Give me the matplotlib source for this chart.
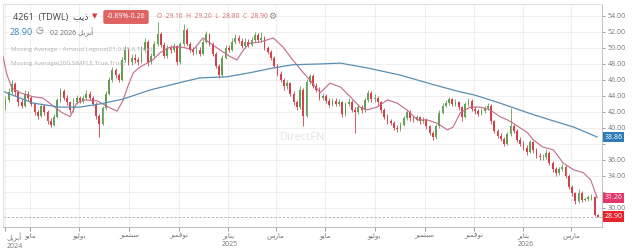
import numpy as np
import pandas as pd
import matplotlib
matplotlib.use("Agg")
import matplotlib.pyplot as plt
import matplotlib.dates as mdates
import matplotlib.transforms as mtransforms

plt.rcParams['font.family'] = ['Open Sans', 'DejaVu Sans']

# Candles (one every 4 calendar days), open = previous close
first_open = 43.0
closes = [43.5, 44.5, 45.5, 44.5, 43.2, 42.8, 44.3, 43.8, 43.0, 42.0,
          41.5, 42.8, 42.0, 40.8, 40.4, 41.4, 43.5, 44.6, 43.8, 43.2,
          42.2, 43.3, 43.7, 43.4, 43.7, 44.3, 43.8, 43.0, 41.5, 40.5,
          42.5, 44.3, 46.0, 47.2, 46.6, 46.0, 48.5, 49.8, 48.2, 48.8,
          48.5, 48.3, 49.8, 50.8, 48.3, 49.0, 50.5, 51.8, 50.4, 49.0,
          50.0, 49.8, 50.2, 48.2, 50.5, 52.3, 50.5, 49.8, 49.5, 49.8,
          49.3, 50.8, 51.7, 50.5, 49.3, 47.8, 46.6, 48.8, 50.0, 49.8,
          50.8, 51.3, 50.9, 50.3, 50.8, 50.4, 51.0, 51.6, 51.0, 51.3,
          50.0, 49.5, 48.8, 47.8, 46.8, 46.0, 45.2, 45.6, 44.3, 43.2,
          42.6, 44.8, 41.5, 45.8, 46.5, 45.3, 44.8, 43.8, 44.0, 43.4,
          42.9, 43.4, 43.0, 43.2, 41.7, 43.0, 43.3, 42.3, 42.0, 42.6,
          42.2, 43.5, 44.4, 43.6, 43.8, 43.2, 42.2, 41.4, 40.8, 40.6,
          40.0, 39.8, 40.4, 41.2, 42.0, 41.2, 41.0, 41.3, 40.8, 41.0,
          40.2, 39.4, 38.8, 40.2, 41.9, 42.8, 43.1, 43.6, 43.0, 43.2,
          42.6, 41.4, 43.0, 43.4, 42.4, 42.1, 41.8, 42.1, 42.5, 42.8,
          40.8, 39.6, 39.0, 38.6, 38.0, 39.2, 40.2, 39.6, 38.5, 38.0,
          37.5, 37.0, 38.2, 37.2, 36.5, 36.3, 36.3, 36.9, 35.6, 34.8,
          34.3, 34.8, 35.1, 34.0, 32.6, 31.8, 30.8, 31.9, 31.0, 31.1,
          31.3, 31.4, 29.16, 28.90]
highs = [44.0, 45.0, 46.0, 45.8, 44.8, 43.6, 44.8, 44.6, 44.0, 43.3,
         42.3, 43.1, 43.0, 42.2, 41.2, 41.8, 43.8, 45.0, 44.9, 44.1,
         43.4, 43.7, 44.1, 44.0, 44.1, 44.8, 44.6, 44.0, 43.2, 41.8,
         42.8, 44.6, 46.4, 47.6, 47.5, 46.9, 48.9, 50.3, 50.0, 49.2,
         49.2, 48.9, 50.2, 51.2, 51.0, 49.4, 50.9, 53.2, 52.0, 50.7,
         50.4, 50.4, 50.6, 50.4, 50.8, 53.0, 52.5, 50.8, 50.1, 50.2,
         50.1, 51.1, 52.1, 51.9, 50.7, 49.5, 48.0, 49.1, 50.4, 50.4,
         51.2, 51.7, 51.6, 51.2, 51.2, 51.1, 51.4, 52.0, 51.9, 52.0,
         51.5, 50.3, 49.8, 49.0, 48.0, 47.1, 46.3, 46.0, 45.8, 44.6,
         43.5, 45.2, 45.0, 46.1, 46.8, 46.7, 45.6, 45.1, 44.4, 44.3,
         43.7, 43.8, 43.7, 43.6, 43.4, 43.3, 43.7, 43.5, 42.6, 43.0,
         42.9, 43.8, 44.8, 44.6, 44.2, 44.0, 43.4, 42.5, 41.7, 41.1,
         40.9, 40.3, 40.7, 41.5, 42.3, 42.2, 41.5, 41.6, 41.5, 41.3,
         41.2, 40.4, 39.6, 40.5, 42.2, 43.1, 43.5, 43.9, 43.8, 43.6,
         43.4, 42.8, 43.3, 43.8, 43.6, 42.7, 42.4, 42.5, 42.8, 43.1,
         43.0, 41.0, 39.9, 39.3, 38.9, 39.5, 42.5, 40.5, 39.8, 38.8,
         38.3, 37.8, 38.5, 38.4, 37.5, 36.8, 36.7, 37.3, 37.1, 35.9,
         35.1, 35.1, 35.5, 35.3, 34.2, 32.9, 32.0, 32.3, 32.1, 31.4,
         31.6, 31.7, 31.5, 29.20]
lows = [42.2, 43.2, 44.2, 44.0, 42.8, 42.5, 42.6, 43.4, 42.7, 41.6,
        41.1, 41.3, 41.6, 40.5, 40.1, 40.2, 41.2, 43.3, 43.5, 42.9,
        41.9, 42.0, 43.0, 43.1, 43.1, 43.5, 43.5, 42.7, 41.1, 38.9,
        40.3, 42.3, 44.1, 45.8, 46.2, 45.7, 45.9, 48.3, 47.9, 47.9,
        48.1, 47.9, 48.1, 49.5, 47.7, 48.0, 48.8, 50.3, 50.1, 48.7,
        48.8, 49.4, 49.5, 47.9, 48.0, 50.3, 50.2, 49.5, 49.1, 49.2,
        49.0, 49.1, 50.6, 50.2, 49.0, 47.5, 46.3, 46.4, 48.6, 49.5,
        49.6, 50.5, 50.6, 50.0, 50.0, 50.1, 50.2, 50.8, 50.7, 50.8,
        49.7, 49.2, 48.5, 47.5, 46.5, 45.7, 44.8, 44.9, 44.0, 42.9,
        42.3, 42.4, 40.2, 41.3, 45.5, 45.0, 44.5, 43.5, 43.5, 43.1,
        42.6, 42.7, 42.7, 42.8, 41.4, 41.5, 42.8, 42.0, 39.4, 41.8,
        41.9, 42.0, 43.3, 43.3, 43.3, 42.9, 41.9, 41.1, 40.5, 40.3,
        39.7, 39.5, 39.6, 40.2, 41.0, 40.9, 40.7, 40.8, 40.5, 40.6,
        39.9, 39.1, 38.5, 38.6, 40.0, 41.7, 42.6, 42.9, 42.7, 42.8,
        42.3, 40.8, 41.2, 42.8, 42.1, 41.8, 41.5, 41.6, 41.9, 42.3,
        40.5, 39.3, 38.7, 38.3, 37.7, 37.8, 39.0, 39.3, 38.2, 37.7,
        37.2, 36.6, 36.8, 36.9, 36.2, 36.0, 36.0, 36.1, 35.3, 34.5,
        34.0, 34.1, 34.6, 33.7, 32.3, 31.5, 30.5, 30.6, 30.7, 30.8,
        30.9, 31.0, 29.0, 28.80]

# Moving averages
alma_dates = ['2024-03-29', '2024-04-03', '2024-04-09', '2024-04-19', '2024-05-05', '2024-05-17',
              '2024-05-30', '2024-06-10', '2024-06-20', '2024-06-28', '2024-07-08', '2024-07-23',
              '2024-08-08', '2024-08-17', '2024-08-24', '2024-08-31', '2024-09-06', '2024-09-14',
              '2024-09-30', '2024-10-09', '2024-10-21', '2024-11-06', '2024-11-19', '2024-12-01',
              '2024-12-10', '2024-12-22', '2025-01-04', '2025-01-12', '2025-01-20', '2025-01-28',
              '2025-02-10', '2025-02-26', '2025-03-10', '2025-03-22', '2025-04-04', '2025-04-12',
              '2025-04-25', '2025-05-07', '2025-05-20', '2025-06-01', '2025-06-13', '2025-06-22',
              '2025-07-04', '2025-07-17', '2025-07-29', '2025-08-10', '2025-08-23', '2025-09-04',
              '2025-09-16', '2025-09-29', '2025-10-06', '2025-10-15', '2025-10-27', '2025-11-09',
              '2025-11-21', '2025-12-03', '2025-12-12', '2025-12-19', '2025-12-28', '2026-01-06',
              '2026-01-13', '2026-01-25', '2026-02-07', '2026-02-19', '2026-03-04', '2026-03-16',
              '2026-03-25', '2026-04-02']
alma_values = [48.9, 46.6, 45.0, 44.4, 43.9, 43.75,
               42.75, 41.9, 41.4, 43.1, 43.5, 43.4,
               42.5, 42.1, 43.4, 45.4, 46.9, 47.6,
               48.5, 49.4, 50.1, 50.1, 49.75, 51.25,
               50.6, 49.75, 48.9, 48.5, 49.75, 50.6,
               50.75, 51.25, 50.1, 48.5, 46.9, 46.0,
               44.4, 45.6, 45.1, 43.9, 42.6, 42.25,
               42.6, 43.5, 43.1, 42.25, 41.0, 41.0,
               40.6, 39.75, 40.1, 41.9, 42.6, 42.6,
               42.25, 41.4, 41.0, 40.6, 40.0, 39.4,
               38.5, 37.6, 37.25, 35.6, 34.75, 34.4,
               33.5, 31.26]
sma_dates = ['2024-03-31', '2024-05-05', '2024-06-07', '2024-07-02', '2024-07-27', '2024-08-24',
             '2024-09-27', '2024-11-06', '2024-11-27', '2024-12-31', '2025-01-28', '2025-02-26',
             '2025-03-22', '2025-04-25', '2025-05-20', '2025-06-22', '2025-08-02', '2025-09-12',
             '2025-10-15', '2025-11-02', '2025-12-03', '2026-01-06', '2026-02-03', '2026-03-04',
             '2026-04-02']
sma_values = [44.5, 43.1, 42.6, 42.6, 43.0, 43.6,
              44.75, 45.75, 46.25, 46.4, 46.9, 47.5,
              47.9, 48.0, 48.1, 47.5, 46.6, 45.4,
              44.5, 44.1, 43.1, 41.9, 41.0, 40.1,
              38.86]

last_price = 28.90
alma_last = 31.26
sma_last = 38.86

month_ticks = ['2024-04-01', '2024-05-01', '2024-07-01', '2024-09-01', '2024-11-01', '2025-01-01',
               '2025-03-01', '2025-05-01', '2025-07-01', '2025-09-01', '2025-11-01', '2026-01-01',
               '2026-03-01']
month_names = ['أبريل', 'مايو', 'يوليو', 'سبتمبر', 'نوفمبر', 'يناير',
               'مارس', 'مايو', 'يوليو', 'سبتمبر', 'نوفمبر', 'يناير', 'مارس']
month_years = ['2024', '', '', '', '', '2025', '', '', '', '', '', '2026', '']


# tiny arabic shaper: matplotlib draws glyphs left to right with no joining
FORMS = {  # isolated, final, initial, medial
    'ا': ('\uFE8D', '\uFE8E', None, None),
    'أ': ('\uFE83', '\uFE84', None, None),
    'ب': ('\uFE8F', '\uFE90', '\uFE91', '\uFE92'),
    'ت': ('\uFE95', '\uFE96', '\uFE97', '\uFE98'),
    'ذ': ('\uFEAB', '\uFEAC', None, None),
    'ر': ('\uFEAD', '\uFEAE', None, None),
    'س': ('\uFEB1', '\uFEB2', '\uFEB3', '\uFEB4'),
    'ف': ('\uFED1', '\uFED2', '\uFED3', '\uFED4'),
    'ل': ('\uFEDD', '\uFEDE', '\uFEDF', '\uFEE0'),
    'م': ('\uFEE1', '\uFEE2', '\uFEE3', '\uFEE4'),
    'ن': ('\uFEE5', '\uFEE6', '\uFEE7', '\uFEE8'),
    'و': ('\uFEED', '\uFEEE', None, None),
    'ي': ('\uFEF1', '\uFEF2', '\uFEF3', '\uFEF4'),
}


def shape(word):
    out = []
    for i, ch in enumerate(word):
        iso, fin, ini, med = FORMS[ch]
        joins_prev = i > 0 and FORMS[word[i - 1]][2] is not None
        joins_next = i < len(word) - 1 and ini is not None
        if joins_prev and joins_next:
            out.append(med)
        elif joins_prev:
            out.append(fin)
        elif joins_next:
            out.append(ini)
        else:
            out.append(iso)
    return ''.join(reversed(out))


dates = pd.date_range('2024-04-01', periods=len(closes), freq='4D')
xs = mdates.date2num(dates)
c = np.array(closes)
o = np.concatenate([[first_open], c[:-1]])
h = np.array(highs)
l = np.array(lows)
up = c >= o

GREEN = '#649f55'
RED = '#d6404a'

fig = plt.figure(figsize=(6.4, 2.49), dpi=100)
ax = fig.add_axes([3 / 640, 1 - 227 / 249, 599 / 640, 223 / 249])

ax.vlines(xs, l, h, colors=np.where(up, GREEN, RED), lw=0.6, zorder=2)
ax.bar(xs, np.maximum(np.abs(c - o), 0.08), bottom=np.minimum(o, c), width=2.2,
       color=np.where(up, GREEN, RED), zorder=3, linewidth=0)

ax.plot(mdates.date2num(pd.to_datetime(alma_dates)), alma_values, color='#c46a86', lw=0.8, zorder=4)
ax.plot(mdates.date2num(pd.to_datetime(sma_dates)), sma_values, color='#5b8db3', lw=0.9, zorder=4)

ax.axhline(last_price, color='#aaaaaa', lw=0.6, ls=(0, (3, 2)), zorder=1)

ax.set_xlim(mdates.date2num(pd.Timestamp('2024-03-29')), mdates.date2num(pd.Timestamp('2026-04-08')))
ax.set_ylim(27.6, 55.5)

# 32.00 and 38.00 sit under the price boxes
yt = np.arange(30, 55, 2)
ax.yaxis.tick_right()
ax.set_yticks(yt)
ax.set_yticklabels(['' if v in (32, 38) else '%.2f' % v for v in yt])
ax.tick_params(axis='y', labelsize=5, colors='#777777', length=2, width=0.5, pad=2)

tick_nums = mdates.date2num(pd.to_datetime(month_ticks))
ax.set_xticks(tick_nums)
ax.set_xticklabels([shape(m) + ('\n' + y if y else '') for m, y in zip(month_names, month_years)])
ax.tick_params(axis='x', labelsize=5, colors='#777777', length=3, width=0.5, pad=1)
for i, lab in enumerate(ax.get_xticklabels()):
    lab.set_multialignment('left')
    if month_years[i]:
        lab.set_ha('left')
        shift = 1 if i == 0 else -6
        lab.set_transform(lab.get_transform() + mtransforms.ScaledTranslation(shift / 100, 0, fig.dpi_scale_trans))

ax.grid(True, color='#ececec', lw=0.6, zorder=0)
ax.set_axisbelow(True)
for side in ['left', 'top']:
    ax.spines[side].set_color('#e2e2e2')
    ax.spines[side].set_linewidth(0.8)
for side in ['right', 'bottom']:
    ax.spines[side].set_color('#b5b5b5')
    ax.spines[side].set_linewidth(0.6)

# price labels on the right axis
trans = mtransforms.blended_transform_factory(ax.transAxes, ax.transData)
for val, col in [(sma_last, '#2e7cb8'), (alma_last, '#e3376b'), (last_price, '#e5252b')]:
    ax.text(1.004, val, '%.2f' % val, transform=trans, fontsize=5, color='white',
            va='center', ha='left', clip_on=False, zorder=6,
            bbox=dict(boxstyle='square,pad=0.25', fc=col, ec='none'))

# watermark
ax.text(0.5, 0.40, 'DirectFN', transform=ax.transAxes, fontsize=8, color='#e3e3e3',
        ha='center', va='center', zorder=1)


def px(x, y):
    return x / 640, 1 - y / 249


# header
fig.text(*px(13, 17), '4261  (TDWL)  ' + shape('ذيب'), fontsize=6.5, color='#444444', va='center')
fig.text(*px(92, 17), '▼', fontsize=5, color='#d23a3a', va='center')
fig.text(*px(126, 17), '-0.89%-0.26', fontsize=5, color='white', va='center', ha='center',
         bbox=dict(boxstyle='round,pad=0.5,rounding_size=0.3', fc='#e06363', ec='none'))
fig.text(*px(157, 17), 'O  29.16  H  29.20  L  28.80  C  28.90', fontsize=4.8, color='#d46a6a', va='center')
fig.text(*px(268, 16), '⚙', fontsize=6.5, color='#888888', va='center')
fig.text(*px(10, 32), '28.90', fontsize=6.5, color='#3a86c0', va='center')
fig.text(*px(35, 31), '◷', fontsize=6.5, color='#777777', va='center')
fig.text(*px(50, 32), '02 2026 ' + shape('أبريل'), fontsize=5, color='#666666', va='center')
fig.text(*px(11, 49), 'Moving Average - Arnaud Legoux(21,0.85,6,True)', fontsize=4.5, color='#b0b0b0', va='center')
fig.text(*px(11, 63), 'Moving Average(200,SIMPLE,True,True)', fontsize=4.5, color='#b0b0b0', va='center')

fig.savefig('out.png', dpi=100)
